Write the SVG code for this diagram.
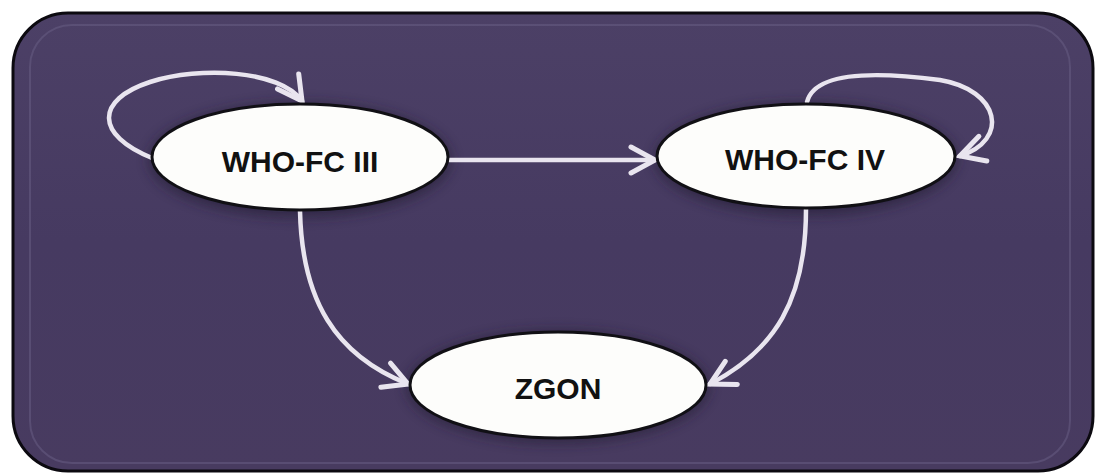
<svg xmlns="http://www.w3.org/2000/svg" width="1096" height="474" viewBox="0 0 1096 474">
  <defs>
    <style>
      .node ellipse { fill: #fdfdfb; stroke: #111015; stroke-width: 3; }
      .shadow { fill: #231a33; opacity: 0.55; filter: url(#blur); }
      .label { font-family: "Liberation Sans", Arial, sans-serif; font-weight: bold; font-size: 30px; fill: #111111; text-anchor: middle; }
      .edge { fill: none; stroke: #e9e5ef; stroke-width: 4.5; stroke-linecap: round; marker-end: url(#chev); }
    </style>
    <filter id="blur" x="-20%" y="-30%" width="140%" height="160%">
      <feGaussianBlur stdDeviation="6"/>
    </filter>
    <linearGradient id="bg" x1="0" y1="0" x2="0" y2="1">
      <stop offset="0" stop-color="#4c4066"/>
      <stop offset="0.5" stop-color="#463a61"/>
      <stop offset="1" stop-color="#483b60"/>
    </linearGradient>
    <marker id="chev" markerUnits="userSpaceOnUse" markerWidth="40" markerHeight="40" viewBox="-30 -20 40 40" refX="0" refY="0" orient="auto" overflow="visible">
      <path d="M-24,-13 L0,0 L-24,13" fill="none" stroke="#e9e5ef" stroke-width="5" stroke-linecap="round" stroke-linejoin="miter"/>
    </marker>
  </defs>

  <rect x="0" y="0" width="1096" height="474" fill="#ffffff"/>
  <g id="frame">
    <rect x="13" y="13" width="1080" height="458" rx="55" ry="55" fill="url(#bg)" stroke="#0c0a10" stroke-width="3"/>
    <rect x="30" y="25" width="1040" height="438" rx="42" ry="42" fill="none" stroke="#6a5f86" stroke-width="2" opacity="0.5"/>
  </g>

  <g id="shadows">
    <ellipse class="shadow" cx="300" cy="160" rx="152" ry="58"/>
    <ellipse class="shadow" cx="806" cy="159" rx="152" ry="57"/>
    <ellipse class="shadow" cx="558" cy="387" rx="152" ry="57"/>
  </g>

  <g id="connectors">
    <path class="edge" d="M449,160 L655,160"/>
    <path class="edge" d="M152,158 C95,135 95,100 150,82 C200,66 280,70 302,101"/>
    <path class="edge" d="M807,102 C815,70 880,72 940,80 C1000,90 1010,140 960,156"/>
    <path class="edge" d="M300,211 C302,300 335,355 408,384"/>
    <path class="edge" d="M806,209 C806,300 775,350 710,384"/>
  </g>

  <g id="node-who-fc-iii" class="node">
    <ellipse cx="300" cy="157" rx="148" ry="53"/>
    <text class="label" x="300" y="172">WHO-FC III</text>
  </g>
  <g id="node-who-fc-iv" class="node">
    <ellipse cx="806" cy="156" rx="149" ry="52"/>
    <text class="label" x="805" y="170">WHO-FC IV</text>
  </g>
  <g id="node-zgon" class="node">
    <ellipse cx="558" cy="385" rx="148" ry="53"/>
    <text class="label" x="558" y="399">ZGON</text>
  </g>
</svg>
